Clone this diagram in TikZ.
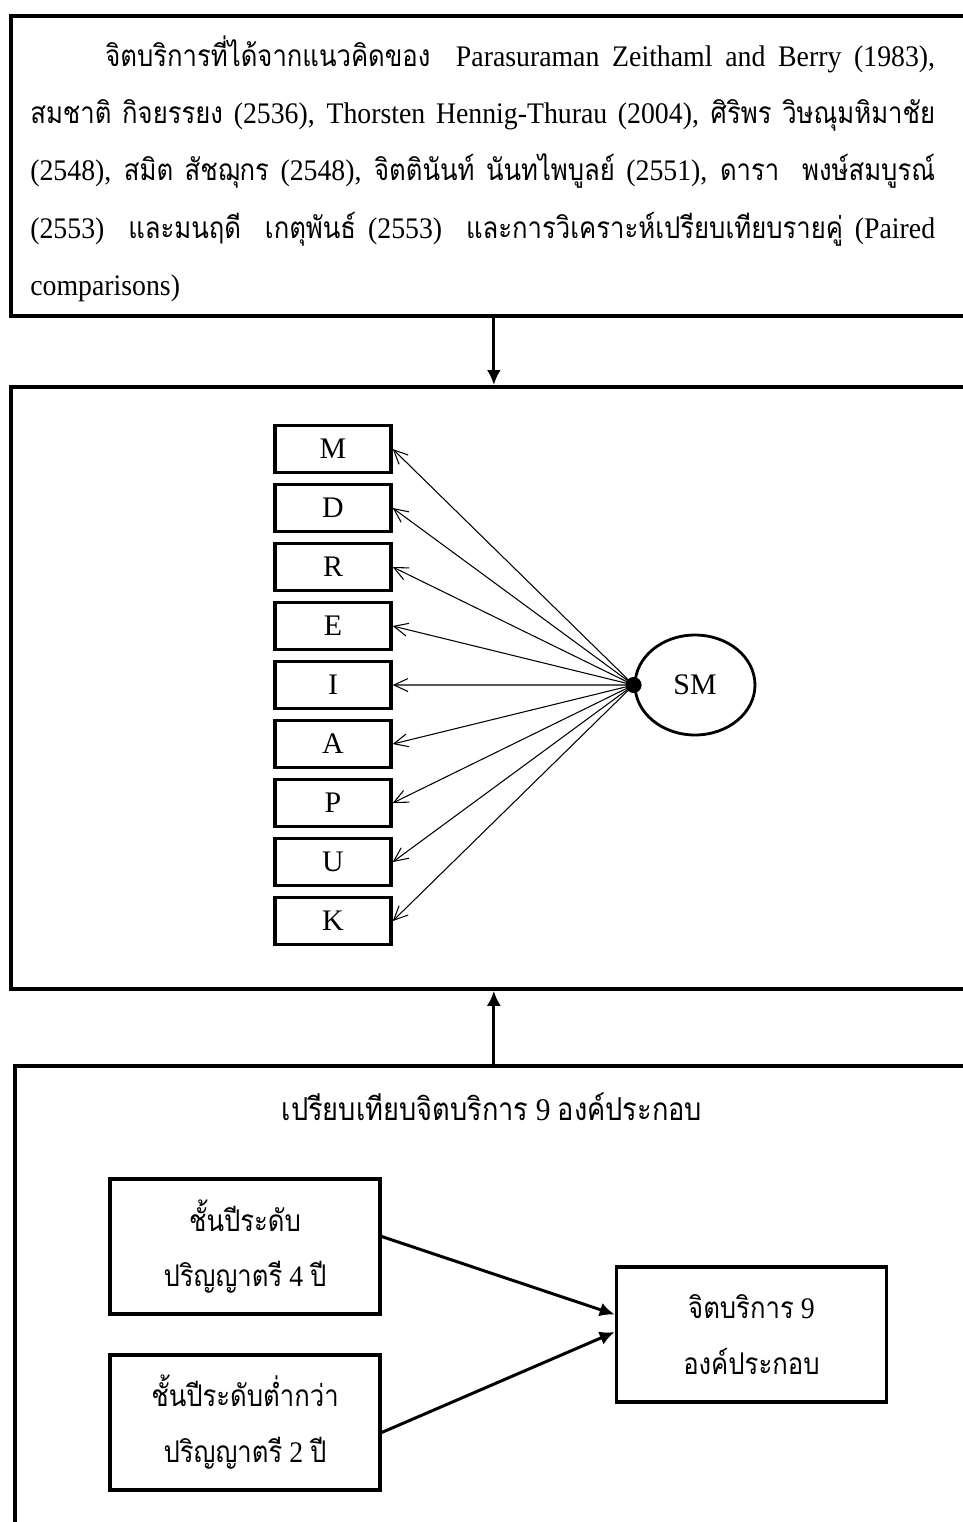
\documentclass[tikz,border=0pt]{standalone}
\usepackage{fontspec}
\setmainfont{Liberation Serif}[FakeStretch=0.93]
\newfontfamily\letterfont{Liberation Serif}
\newfontfamily\thaifont[Script=Thai, FakeStretch=0.86]{Loma}
\newcommand{\thaitxt}[1]{{\thaifont #1}}
\newcommand{\fullline}[1]{\makebox[\hsize][s]{\spaceskip=0.22em plus 2em\relax #1}}
\usetikzlibrary{shapes.geometric,arrows.meta,positioning,calc}

\begin{document}
\begin{tikzpicture}[
    x=0.02cm, y=-0.02cm,
    node distance=0.17cm,
    frame/.style={rectangle, draw, line width=2.2pt, anchor=north west},
    item/.style={rectangle, draw, line width=2pt, minimum width=2.32cm, minimum height=0.94cm, inner sep=0pt, font=\letterfont\fontsize{17}{19}\selectfont},
    factor/.style={ellipse, draw, line width=1.6pt, minimum width=2.4cm, minimum height=2cm, font=\letterfont\fontsize{17}{19}\selectfont},
    group/.style={rectangle, draw, line width=2pt, minimum width=5.4cm, minimum height=2.7cm, align=center, font=\fontsize{17}{31.8}\selectfont},
    load/.style={-{Straight Barb[length=2.8mm, width=2.6mm]}, line width=0.6pt},
    flow/.style={-{Latex[length=3mm, width=2.8mm]}, line width=1.7pt}
]
\useasboundingbox (0,0) rectangle (963,1522);
\clip (0,0) rectangle (963,1522);

% sources of the concept
\node[frame, minimum width=19.32cm, minimum height=6cm] (sources) at (9,14) {};
\node[anchor=north west, inner sep=0pt, text width=18.1cm, align=left, font=\fontsize{17}{32.7}\selectfont] (refs) at (30,35) {%
\fullline{\hspace*{1.5cm}\thaitxt{จิตบริการที่ได้จากแนวคิดของ}\ \ Parasuraman Zeithaml and Berry (1983),}\\
\fullline{\thaitxt{สมชาติ กิจยรรยง} (2536), Thorsten Hennig-Thurau (2004), \thaitxt{ศิริพร วิษณุมหิมาชัย}}\\
\fullline{(2548), \thaitxt{สมิต สัชฌุกร} (2548), \thaitxt{จิตตินันท์ นันทไพบูลย์} (2551), \thaitxt{ดารา\ \ พงษ์สมบูรณ์}}\\
\fullline{(2553)\ \ \thaitxt{และมนฤดี\ \ เกตุพันธ์} (2553)\ \ \thaitxt{และการวิเคราะห์เปรียบเทียบรายคู่} (Paired}\\
comparisons)};

% measurement model
\node[frame, minimum width=19.32cm, minimum height=12.04cm] (model) at (9,385) {};
\node[item] (m) at (333,449) {M};
\node[item, below=of m] (d) {D};
\node[item, below=of d] (r) {R};
\node[item, below=of r] (e) {E};
\node[item, below=of e] (i) {I};
\node[item, below=of i] (a) {A};
\node[item, below=of a] (p) {P};
\node[item, below=of p] (u) {U};
\node[item, below=of u] (k) {K};
\node[factor] (sm) at (695,685) {SM};
\node[circle, fill, inner sep=0pt, minimum size=0.32cm] (hub) at (sm.west) {};
\foreach \n in {m,d,r,e,i,a,p,u,k}
    \draw[load] (hub.center) -- (\n.east);

% comparison of groups
\node[frame, minimum width=19.24cm, minimum height=9.92cm] (compare) at (13,1064) {};
\node[font=\fontsize{18}{20}\selectfont] (title) at (492,1107) {\thaitxt{เปรียบเทียบจิตบริการ} 9 \thaitxt{องค์ประกอบ}};
\node[group] (year4) at (245,1246.5) {\thaitxt{ชั้นปีระดับ}\\\thaitxt{ปริญญาตรี} 4 \thaitxt{ปี}};
\node[group, below=0.75cm of year4] (year2) {\thaitxt{ชั้นปีระดับต่ำกว่า}\\\thaitxt{ปริญญาตรี} 2 \thaitxt{ปี}};
\coordinate (mid) at ($(year4.east)!0.5!(year2.east)$);
\node[group, right=4.66cm of mid] (service) {\thaitxt{จิตบริการ} 9\\\thaitxt{องค์ประกอบ}};

\draw[flow] (sources.south) -- (model.north);
\draw[flow] (compare.north -| model.south) -- (model.south);
\draw[flow] ([yshift=0.2cm]year4.east) -- ([yshift=0.4cm]service.west);
\draw[flow] ([yshift=-0.2cm]year2.east) -- ([yshift=0.05cm]service.west);

\end{tikzpicture}
\end{document}
